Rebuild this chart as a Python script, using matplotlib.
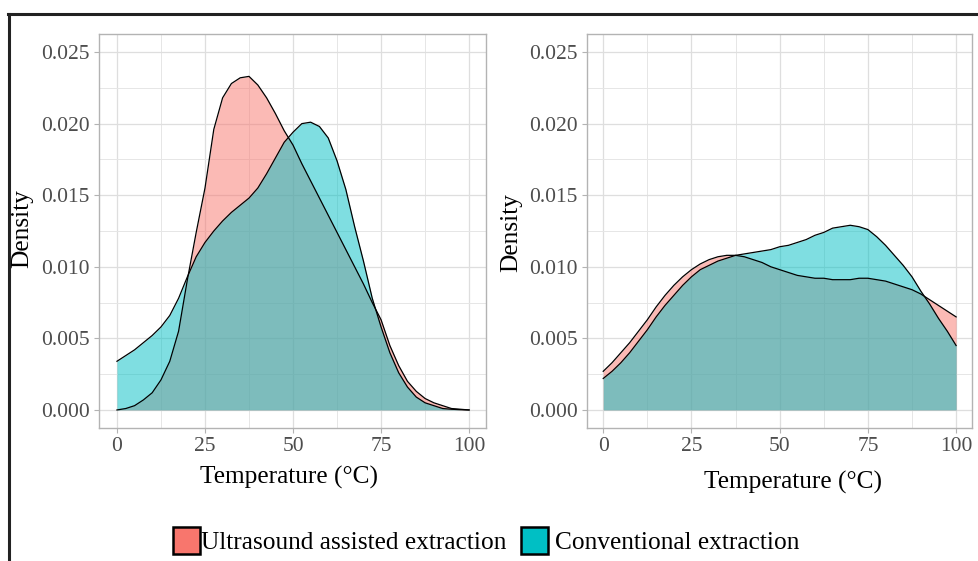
import matplotlib
matplotlib.use("Agg")
import matplotlib.pyplot as plt
from matplotlib.lines import Line2D
from matplotlib.patches import Rectangle

plt.rcParams['font.family'] = ['Liberation Serif', 'DejaVu Serif']

temp = [0, 2.5, 5, 7.5, 10, 12.5, 15, 17.5, 20, 22.5, 25, 27.5, 30, 32.5, 35, 37.5,
        40, 42.5, 45, 47.5, 50, 52.5, 55, 57.5, 60, 62.5, 65, 67.5, 70, 72.5, 75,
        77.5, 80, 82.5, 85, 87.5, 90, 92.5, 95, 97.5, 100]

# left panel
uae_left = [0.0000, 0.0001, 0.0003, 0.0007, 0.0012, 0.0021, 0.0034, 0.0055, 0.0091,
            0.0124, 0.0155, 0.0196, 0.0218, 0.0228, 0.0232, 0.0233, 0.0227, 0.0218,
            0.0207, 0.0195, 0.0185, 0.0172, 0.0160, 0.0148, 0.0136, 0.0124, 0.0112,
            0.0100, 0.0088, 0.0075, 0.0063, 0.0045, 0.0031, 0.0020, 0.0013, 0.0008,
            0.0005, 0.0003, 0.0001, 0.00005, 0.0000]
conv_left = [0.0034, 0.0038, 0.0042, 0.0047, 0.0052, 0.0058, 0.0066, 0.0078, 0.0093,
             0.0107, 0.0117, 0.0125, 0.0132, 0.0138, 0.0143, 0.0148, 0.0155, 0.0165,
             0.0176, 0.0187, 0.0194, 0.0200, 0.0201, 0.0198, 0.0190, 0.0174, 0.0154,
             0.0128, 0.0104, 0.0078, 0.0058, 0.0040, 0.0026, 0.0016, 0.0009, 0.0005,
             0.0003, 0.0001, 0.00005, 0.00002, 0.0000]

# right panel
uae_right = [0.0027, 0.0033, 0.0040, 0.0047, 0.0055, 0.0063, 0.0072, 0.0080, 0.0087,
             0.0093, 0.0098, 0.0102, 0.0105, 0.0107, 0.0108, 0.0108, 0.0107, 0.0105,
             0.0103, 0.0100, 0.0098, 0.0096, 0.0094, 0.0093, 0.0092, 0.0092, 0.0091,
             0.0091, 0.0091, 0.0092, 0.0092, 0.0091, 0.0090, 0.0088, 0.0086, 0.0084,
             0.0081, 0.0077, 0.0073, 0.0069, 0.0065]
conv_right = [0.0022, 0.0027, 0.0033, 0.0040, 0.0048, 0.0056, 0.0065, 0.0073, 0.0080,
              0.0087, 0.0093, 0.0098, 0.0101, 0.0104, 0.0106, 0.0108, 0.0109, 0.0110,
              0.0111, 0.0112, 0.0114, 0.0115, 0.0117, 0.0119, 0.0122, 0.0124, 0.0127,
              0.0128, 0.0129, 0.0128, 0.0126, 0.0121, 0.0115, 0.0108, 0.0101, 0.0093,
              0.0083, 0.0074, 0.0064, 0.0055, 0.0045]

labels = ["Ultrasound assisted extraction", "Conventional extraction"]
colors = ["#F8766D", "#00BFC4"]
x_ticks = [0, 25, 50, 75, 100]
y_ticks = [0.000, 0.005, 0.010, 0.015, 0.020, 0.025]

W, H = 979, 561
fig = plt.figure(figsize=(W / 100, H / 100), dpi=100)


def panel(rect, xlim, series):
    ax = fig.add_axes(rect)
    for vals, col in zip(series, colors):
        ax.fill_between(temp, 0, vals, color=col, alpha=0.5, lw=0)
        ax.plot(temp, vals, color="black", lw=0.9, solid_joinstyle="round")
    ax.set_xlim(xlim)
    ax.set_ylim(-0.00126, 0.02626)
    ax.set_xticks(x_ticks)
    ax.set_xticks([12.5, 37.5, 62.5, 87.5], minor=True)
    ax.set_yticks(y_ticks)
    ax.set_yticks([0.0025, 0.0075, 0.0125, 0.0175, 0.0225], minor=True)
    ax.set_yticklabels([f"{v:.3f}" for v in y_ticks])
    ax.grid(which="major", color="#DEDEDE", lw=0.9)
    ax.grid(which="minor", color="#E6E6E6", lw=0.7)
    ax.set_axisbelow(True)
    for s in ax.spines.values():
        s.set_color("#B3B3B3")
        s.set_linewidth(1.0)
    ax.tick_params(which="major", length=3.5, width=0.8, color="#B3B3B3",
                   labelsize=15.5, labelcolor="#4D4D4D", pad=3)
    ax.tick_params(which="minor", length=0)
    return ax


panel([99 / W, 1 - 428 / H, 387 / W, 394 / H], (-5.1, 104.8), [uae_left, conv_left])
panel([587 / W, 1 - 428 / H, 385 / W, 394 / H], (-4.6, 104.5), [uae_right, conv_right])

# axis titles
fig.text(22 / W, 1 - 229 / H, "Density", rotation=90, ha="center", va="center", fontsize=18.3)
fig.text(511 / W, 1 - 232 / H, "Density", rotation=90, ha="center", va="center", fontsize=18.3)
fig.text(289 / W, 1 - 477 / H, "Temperature (°C)", ha="center", va="center", fontsize=18.3)
fig.text(793 / W, 1 - 482 / H, "Temperature (°C)", ha="center", va="center", fontsize=18.3)

# legend
for x0, col, lab in [(173, colors[0], labels[0]), (521, colors[1], labels[1])]:
    fig.add_artist(Rectangle((x0 / W, 1 - 554 / H), 27 / W, 27 / H, facecolor=col,
                             edgecolor="black", lw=1.8, transform=fig.transFigure))
    fig.text((x0 + 28 if x0 == 173 else x0 + 34) / W, 1 - 543 / H, lab,
             ha="left", va="center", fontsize=18.3)

# outer frame
fig.add_artist(Line2D([8.5 / W, 1], [1 - 13.5 / H, 1 - 13.5 / H], color="#222222", lw=2.2))
fig.add_artist(Line2D([9 / W, 9 / W], [0, 1 - 13.5 / H], color="#222222", lw=2.2))

fig.savefig("out.png", dpi=100)
